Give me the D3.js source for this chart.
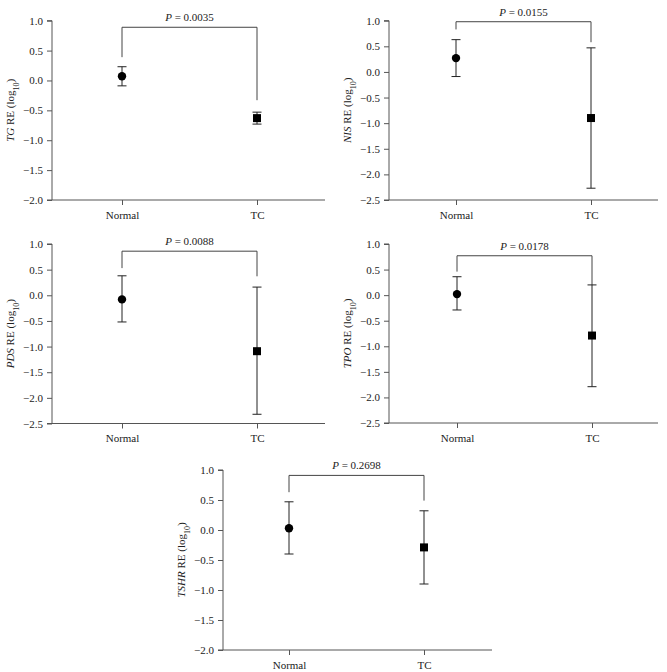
<!DOCTYPE html>
<html><head><meta charset="utf-8">
<script src="https://cdn.jsdelivr.net/npm/d3@7"></script>
<style>
body{margin:0;background:#fff;}
</style></head>
<body><svg id="c" width="667" height="672"></svg>
<script>
const groups = ["Normal", "TC"];
const genes = ["TG", "NIS", "PDS", "TPO", "TSHR"];
const pValues = ["0.0035", "0.0155", "0.0088", "0.0178", "0.2698"];
const yMins = [-2.0, -2.5, -2.5, -2.5, -2.0];
const yTicks = [
  [-2.0, -1.5, -1.0, -0.5, 0.0, 0.5, 1.0],
  [-2.5, -2.0, -1.5, -1.0, -0.5, 0.0, 0.5, 1.0],
  [-2.5, -2.0, -1.5, -1.0, -0.5, 0.0, 0.5, 1.0],
  [-2.5, -2.0, -1.5, -1.0, -0.5, 0.0, 0.5, 1.0],
  [-2.0, -1.5, -1.0, -0.5, 0.0, 0.5, 1.0]
];
// per gene: [Normal, TC]
const means = [[0.07, -0.63], [0.27, -0.90], [-0.08, -1.09], [0.02, -0.79], [0.03, -0.29]];
const uppers = [[0.23, -0.53], [0.63, 0.47], [0.38, 0.16], [0.36, 0.20], [0.47, 0.32]];
const lowers = [[-0.09, -0.73], [-0.09, -2.27], [-0.52, -2.32], [-0.29, -1.79], [-0.40, -0.90]];
// significance bracket: top, left leg end, right leg end
const bracketTop = [0.89, 0.98, 0.86, 0.77, 0.91];
const bracketLeft = [0.39, 0.83, 0.53, 0.46, 0.63];
const bracketRight = [-0.33, 0.58, 0.37, 0.20, 0.49];

// panel layout (pixel frames)
const panels = [
  {x0: 52, x1: 325, y0: 20.7, y1: 200, xN: 122, xT: 257},
  {x0: 389, x1: 658, y0: 20.7, y1: 200, xN: 456, xT: 591},
  {x0: 52, x1: 325, y0: 244, y1: 423.5, xN: 122, xT: 257},
  {x0: 389, x1: 658, y0: 244, y1: 423, xN: 457, xT: 592},
  {x0: 223, x1: 492, y0: 470, y1: 650, xN: 289, xT: 424}
];

const FONT = "'Liberation Serif', 'DejaVu Serif', serif";
const FS = "11px";
const svg = d3.select("#c");
const axisColor = "#555";

panels.forEach((p, i) => {
  const g = svg.append("g");
  const y = d3.scaleLinear().domain([yMins[i], 1.0]).range([p.y1, p.y0]);
  const x = d3.scalePoint().domain(groups).range([p.xN, p.xT]);

  // y axis
  const ya = g.append("g").attr("transform", `translate(${p.x0},0)`)
    .call(d3.axisLeft(y).tickValues(yTicks[i]).tickSize(5).tickPadding(4)
      .tickFormat(d => (d < 0 ? "\u2212" : "") + Math.abs(d).toFixed(1)));
  ya.attr("font-family", null).attr("font-size", null);
  ya.select(".domain").attr("stroke", axisColor).attr("d", `M-5,${p.y0}H0V${p.y1}H-5`);
  ya.selectAll(".tick line").attr("stroke", axisColor);
  ya.selectAll("text").style("font-family", FONT).style("font-size", FS).attr("fill", "#222");

  // x axis
  const xa = g.append("g").attr("transform", `translate(0,${p.y1})`)
    .call(d3.axisBottom(x).tickSize(5).tickPadding(6));
  xa.attr("font-family", null).attr("font-size", null);
  xa.select(".domain").attr("stroke", axisColor).attr("d", `M${p.x0},0H${p.x1}`);
  xa.selectAll(".tick line").attr("stroke", axisColor);
  xa.selectAll("text").style("font-family", FONT).style("font-size", FS).attr("fill", "#222");

  // y title
  const t = g.append("text")
    .attr("transform", `translate(${p.x0 - 38},${(p.y0 + p.y1) / 2}) rotate(-90)`)
    .attr("text-anchor", "middle").style("font-family", FONT).style("font-size", FS).attr("fill", "#222");
  t.append("tspan").style("font-style", "italic").text(genes[i]);
  t.append("tspan").text(" RE (log");
  t.append("tspan").attr("baseline-shift", "sub").style("font-size", "8px").text("10");
  t.append("tspan").text(")");

  // bracket
  const bx1 = x("Normal"), bx2 = x("TC");
  g.append("path")
    .attr("d", `M${bx1},${y(bracketLeft[i])}V${y(bracketTop[i])}H${bx2}V${y(bracketRight[i])}`)
    .attr("fill", "none").attr("stroke", "#444").attr("stroke-width", 1);
  const pt = g.append("text").attr("x", (bx1 + bx2) / 2).attr("y", y(bracketTop[i]) - 6)
    .attr("text-anchor", "middle").style("font-family", FONT).style("font-size", FS).attr("fill", "#222");
  pt.append("tspan").style("font-style", "italic").text("P");
  pt.append("tspan").text(" = " + pValues[i]);

  // error bars and markers
  groups.forEach((grp, j) => {
    const cx = x(grp);
    g.append("line").attr("x1", cx).attr("x2", cx)
      .attr("y1", y(uppers[i][j])).attr("y2", y(lowers[i][j]))
      .attr("stroke", "#222").attr("stroke-width", 1);
    [uppers[i][j], lowers[i][j]].forEach(v => {
      g.append("line").attr("x1", cx - 4.5).attr("x2", cx + 4.5)
        .attr("y1", y(v)).attr("y2", y(v)).attr("stroke", "#222").attr("stroke-width", 1);
    });
    if (j === 0) {
      g.append("circle").attr("cx", cx).attr("cy", y(means[i][j])).attr("r", 4.2).attr("fill", "#000");
    } else {
      g.append("rect").attr("x", cx - 4).attr("y", y(means[i][j]) - 4)
        .attr("width", 8).attr("height", 8).attr("fill", "#000");
    }
  });
});
</script></body></html>
